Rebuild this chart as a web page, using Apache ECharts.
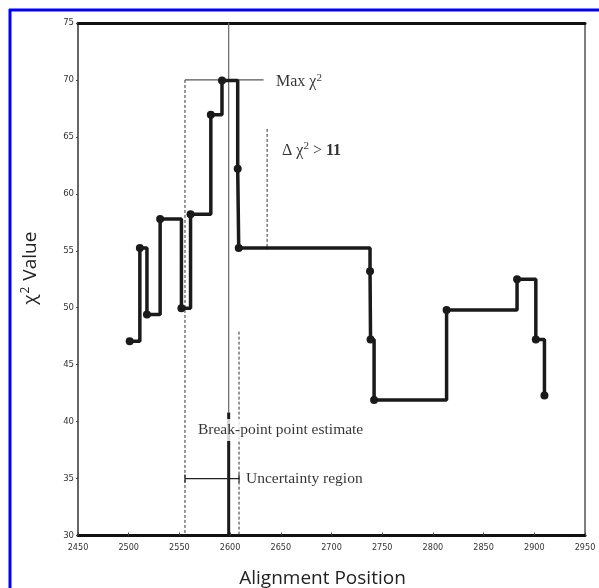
<!DOCTYPE html>
<html>
<head>
<meta charset="utf-8">
<script src="https://cdn.jsdelivr.net/npm/echarts@6/dist/echarts.min.js"></script>
<style>html,body{margin:0;padding:0;background:#fff}#c{width:599px;height:588px}</style>
</head>
<body>
<div id="c"></div>
<script>
// ---- data ----
var positions = [2501, 2511, 2518, 2531, 2552, 2561, 2581, 2592, 2607.5, 2608.5, 2738, 2738.5, 2742, 2813.5, 2883, 2901.5, 2910];
var chi2Values = [47.05, 55.25, 49.4, 57.8, 49.95, 58.2, 66.95, 69.95, 62.2, 55.25, 53.2, 47.2, 41.9, 49.8, 52.5, 47.2, 42.3];
var xTicks = [2450, 2950, 50];
var yTicks = [30, 75, 5];
var breakPoint = 2598.6;
var uncertainty = [2555.5, 2608.8];
var maxChi2 = 70;
var deltaLineX = 2636.5;
var deltaRange = [55.1, 65.7];

var stepData = positions.map(function (p, i) { return [p, chi2Values[i]]; });
var serif = '"Liberation Serif","DejaVu Serif",serif';
var txtCol = '#000';

function seg(pts, color, width, type, z) {
  return {
    type: 'line', data: pts, symbol: 'none', silent: true, animation: false, z: z || 2,
    lineStyle: { color: color, width: width, type: type || 'solid' }
  };
}
function textPt(x, y, rich, fmt, extra) {
  var lbl = Object.assign({ show: true, position: 'right', distance: 0, formatter: fmt, rich: rich, color: txtCol, fontFamily: serif, fontSize: 15 }, extra || {});
  return { type: 'scatter', data: [[x, y]], symbolSize: 0, silent: true, animation: false, z: 10, label: lbl };
}
var supStyle = { fontFamily: serif, fontSize: 11, color: txtCol, verticalAlign: 'top', padding: [0, 0, 8, 0] };

var chart = echarts.init(document.getElementById('c'));
chart.setOption({
  animation: false,
  backgroundColor: '#fff',
  grid: { left: 78, right: 14, top: 23, bottom: 52.5, containLabel: false, outerBoundsMode: 'none' },
  xAxis: [{
    type: 'value', min: xTicks[0], max: xTicks[1], interval: xTicks[2],
    name: 'Alignment Position', nameLocation: 'middle', nameGap: 34,
    nameTextStyle: { fontFamily: '"Open Sans",sans-serif', fontSize: 19, color: '#222', padding: [0, 18, 0, 0] },
    axisLine: { lineStyle: { color: '#111', width: 3 } },
    axisTick: { inside: true, length: 3, lineStyle: { color: '#444' } },
    axisLabel: { fontFamily: '"DejaVu Sans Condensed","Liberation Sans Narrow",sans-serif', fontSize: 9, color: '#333', margin: 8,
      formatter: function (v) { return String(v); } },
    splitLine: { show: false }
  }, {
    type: 'value', position: 'top', min: xTicks[0], max: xTicks[1],
    axisLine: { show: true, lineStyle: { color: '#111', width: 3 } },
    axisTick: { show: false }, axisLabel: { show: false }, splitLine: { show: false }
  }],
  yAxis: [{
    type: 'value', min: yTicks[0], max: yTicks[1], interval: yTicks[2],
    name: '{g|χ}{s|2}{g| Value}', nameLocation: 'middle', nameGap: 37,
    nameTextStyle: {
      padding: [0, 0, 0, 22],
      rich: {
        g: { fontFamily: '"Open Sans",sans-serif', fontSize: 19, color: '#222' },
        s: { fontFamily: '"Open Sans",sans-serif', fontSize: 12, color: '#222', verticalAlign: 'top', padding: [0, 1, 9, 1] }
      }
    },
    axisLine: { show: true, lineStyle: { color: '#666', width: 2 } },
    axisTick: { show: true, inside: false, length: 2, lineStyle: { color: '#444' } },
    axisLabel: { fontFamily: '"DejaVu Sans Condensed","Liberation Sans Narrow",sans-serif', fontSize: 9.5, color: '#333', margin: 4 },
    splitLine: { show: false }
  }, {
    type: 'value', position: 'right', min: yTicks[0], max: yTicks[1],
    axisLine: { show: true, lineStyle: { color: '#555', width: 1.5 } },
    axisTick: { show: false }, axisLabel: { show: false }, splitLine: { show: false }
  }],
  graphic: [
    { type: 'line', shape: { x1: 9, y1: 10, x2: 599, y2: 10 }, style: { stroke: '#0000ff', lineWidth: 3 } },
    { type: 'line', shape: { x1: 10, y1: 9, x2: 10, y2: 588 }, style: { stroke: '#0000ff', lineWidth: 3 } }
  ],
  series: [
    // break-point estimate line
    seg([[breakPoint, yTicks[1]], [breakPoint, 40.8]], '#666', 1.2),
    seg([[breakPoint, 40.8], [breakPoint, yTicks[0]]], '#1a1a1a', 3),
    // max chi2 horizontal
    seg([[uncertainty[0], maxChi2], [2633, maxChi2]], '#555', 1.2),
    // uncertainty dashed bounds
    seg([[uncertainty[0], maxChi2], [uncertainty[0], yTicks[0]]], '#333', 1, [3, 2]),
    seg([[uncertainty[1], 47.9], [uncertainty[1], yTicks[0]]], '#333', 1, [3, 2]),
    // delta chi2 dashed line
    seg([[deltaLineX, deltaRange[1]], [deltaLineX, deltaRange[0]]], '#333', 1, [3, 2]),
    // uncertainty region bar
    seg([[uncertainty[0], 35], [uncertainty[1], 35]], '#222', 1.2),
    seg([[uncertainty[0], 35.35], [uncertainty[0], 34.65]], '#222', 1.2),
    seg([[uncertainty[1], 35.35], [uncertainty[1], 34.65]], '#222', 1.2),
    // step curve
    {
      type: 'line', step: 'end', data: stepData, z: 5, animation: false,
      symbol: 'circle', symbolSize: 8, showAllSymbol: true,
      itemStyle: { color: '#1a1a1a' },
      lineStyle: { color: '#1a1a1a', width: 3.5 }
    },
    // annotation texts
    textPt(2645.3, 69.8, { m: { fontFamily: serif, fontSize: 16, color: txtCol }, s: supStyle }, '{m|Max χ}{s|2}'),
    textPt(2651.2, 63.8, { m: { fontFamily: serif, fontSize: 16, color: txtCol }, b: { fontFamily: serif, fontSize: 16, color: txtCol, fontWeight: 'bold' }, s: supStyle }, '{m|Δ χ}{s|2}{m| > }{b|11}'),
    textPt(2568.3, 39.26, { m: { fontFamily: serif, fontSize: 15.5, color: txtCol } }, '{m|Break-point point estimate}', { backgroundColor: '#fff', padding: [3, 0, 3, 0] }),
    textPt(2615.7, 35, { m: { fontFamily: serif, fontSize: 15.5, color: txtCol } }, '{m|Uncertainty region}')
  ]
});
</script>
</body>
</html>
